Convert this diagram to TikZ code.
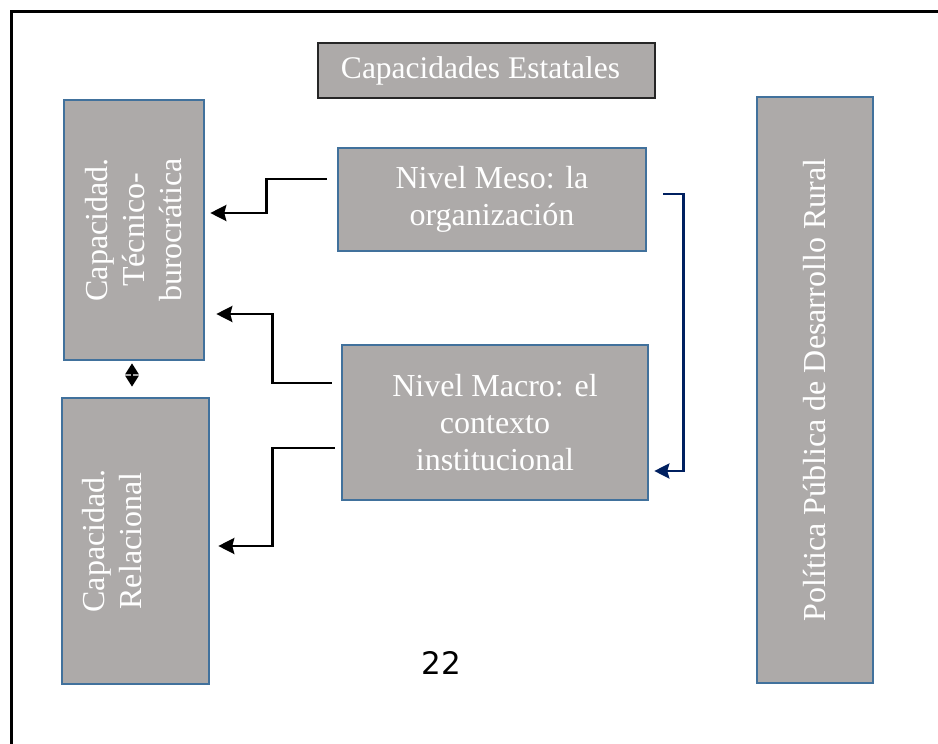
\documentclass[tikz,border=0pt]{standalone}
\usepackage{fontspec}
\setmainfont{Liberation Serif}
\newfontfamily\numfont{DejaVu Sans}
\usetikzlibrary{arrows.meta,calc}
\definecolor{boxgray}{RGB}{173,170,169}
\definecolor{boxblue}{RGB}{65,113,156}
\definecolor{navy}{RGB}{0,32,96}
\tikzset{
  gbox/.style={draw=boxblue, line width=2.6pt, fill=boxgray, inner sep=0pt},
  topbox/.style={draw=black!85, line width=1.5pt, fill=boxgray, inner sep=0pt},
  lbl/.style={text=white, align=center, inner sep=0pt, font=\fontsize{32}{37}\selectfont},
  arr/.style={draw=black, line width=2.6pt, -{Stealth[length=16pt,width=16pt,inset=2pt]}},
  barr/.style={draw=navy, line width=2.6pt, -{Stealth[length=15pt,width=15pt,inset=2pt]}},
  darr/.style={draw=black, line width=2.6pt, {Triangle[length=11pt,width=13pt]}-{Triangle[length=11pt,width=13pt]}}
}
\begin{document}
\begin{tikzpicture}[x=1pt,y=-1pt]
\useasboundingbox (0,0) rectangle (938,744);
\fill[white] (0,0) rectangle (938,744);
\draw[line width=3pt] (11,744) -- (11,11) -- (938,11);

% boxes
\node[topbox, minimum width=337pt, minimum height=55pt] (cap) at (486.5,70.5) {};
\node[lbl, font=\fontsize{31.5}{37}\selectfont] (capt) at ($(cap.center)+(-6,0)$) {Capacidades Estatales};

\node[gbox, minimum width=140pt, minimum height=260pt] (tb) at (134,230) {};
\node[lbl, rotate=90] (tbt) at (tb.center) {Capacidad.\\Técnico-\\burocrática};

\node[gbox, minimum width=147pt, minimum height=286pt] (rel) at (135.5,541) {};
\node[lbl, rotate=90] (relt) at ($(rel.center)+(-23,0)$) {Capacidad.\\Relacional};

\node[gbox, minimum width=308pt, minimum height=103pt] (meso) at (492,199.5) {};
\node[lbl] (mesot) at (meso.center) {Nivel Meso: la\\organización};

\node[gbox, minimum width=306pt, minimum height=155pt] (macro) at (495,422.5) {};
\node[lbl] (macrot) at (macro.center) {Nivel Macro: el\\contexto\\institucional};

\node[gbox, minimum width=116pt, minimum height=586pt] (pp) at (815,390) {};
\node[lbl, rotate=90] (ppt) at (pp.center) {Política Pública de Desarrollo Rural};

\node[anchor=base, inner sep=0pt, font=\numfont\fontsize{31}{36}\selectfont] (num) at (441.5,674) {22};

% connector end points
\coordinate (a1s) at ($(meso.west)+(-10,-20.5)$);
\coordinate (a1e) at ($(tb.east)+(5,-17)$);
\coordinate (a2s) at ($(macro.west)+(-9,-39.5)$);
\coordinate (a2e) at ($(tb.east)+(11,84)$);
\coordinate (a3s) at ($(macro.west)+(-6,25.5)$);
\coordinate (a3e) at ($(rel.east)+(8,5)$);
\coordinate (bs) at ($(meso.east)+(16,-5.5)$);
\coordinate (be) at ($(macro.east)+(5,48.5)$);
\coordinate (ds) at ($(tb.south)+(-2,2)$);
\coordinate (de) at ($(rel.north)+(-3.5,-10)$);

\draw[arr] (a1s) -- ++(-60,0) |- (a1e);
\draw[arr] (a2s) -- ++(-59,0) |- (a2e);
\draw[arr] (a3s) -- ++(-62,0) |- (a3e);
\draw[barr] (bs) -- ++(20,0) |- (be);
\draw[darr] (ds) -- (de);
\end{tikzpicture}
\end{document}
